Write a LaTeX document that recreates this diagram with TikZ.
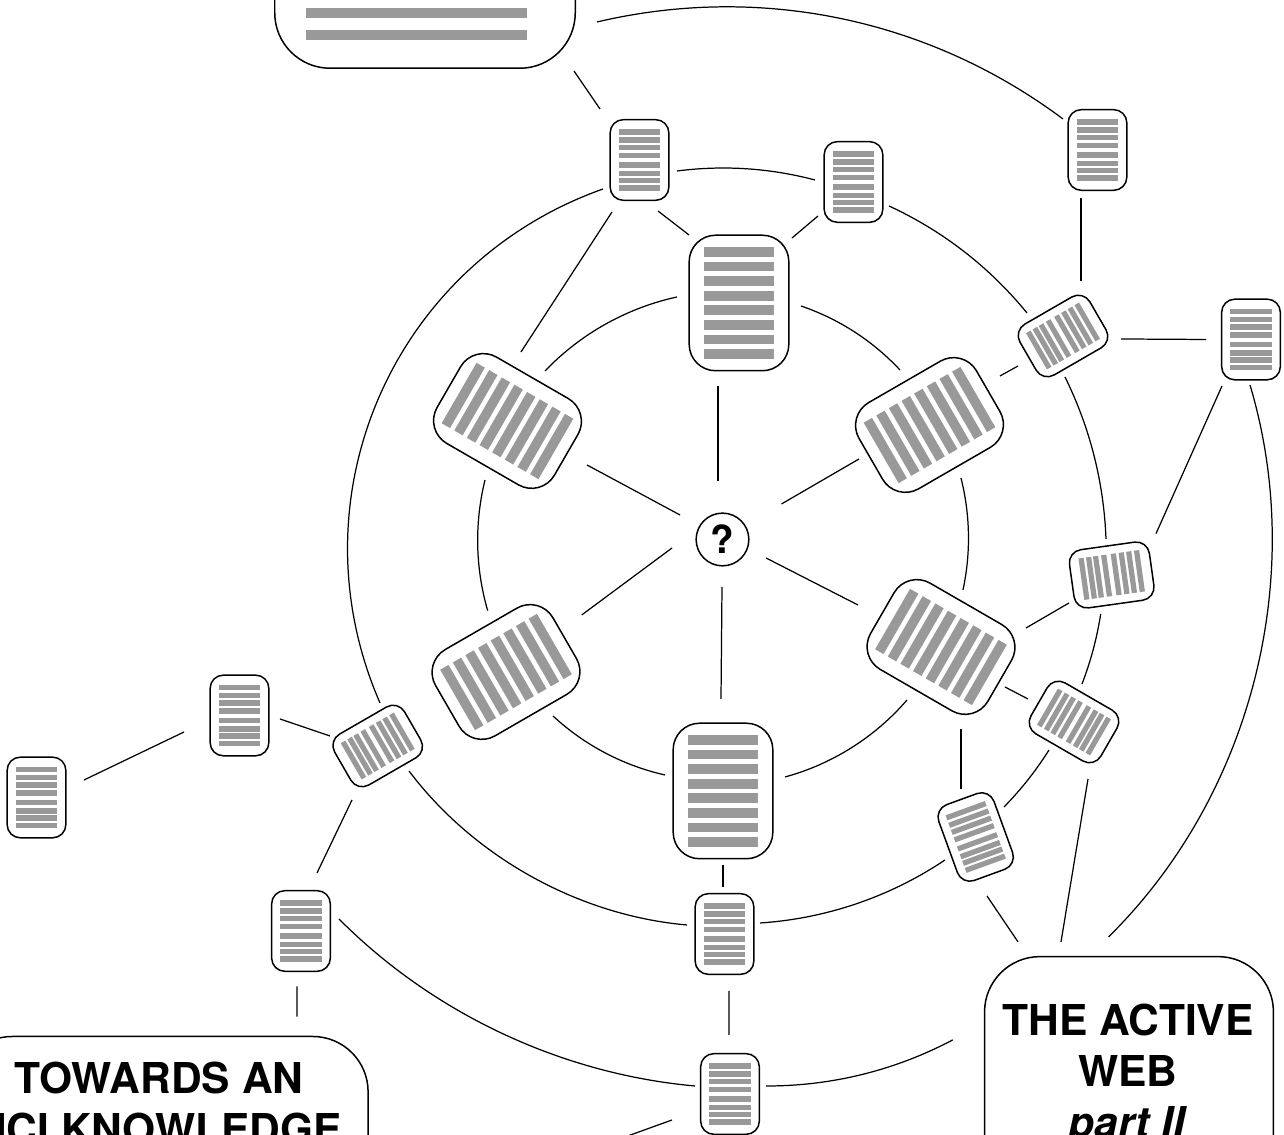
\documentclass[tikz,border=0pt]{standalone}
\usepackage{fontspec}
\setmainfont{TeX Gyre Heros}
\usetikzlibrary{calc}
\definecolor{bargray}{RGB}{153,153,153}
\newcommand{\smallbars}{\vbox{\foreach \gap in {0,1.53,1.3,1.53,2.5,1.7,1,1.3}{\vskip\gap pt\hrule width 23.8pt height 3pt}}}
\newcommand{\bigbars}{\vbox{\foreach \gap in {0,2.8,2.8,2.8,2.8,2.8,2.8,2.8}{\vskip\gap pt\hrule width 39.7pt height 5.5pt}}}
\newcommand{\topbars}{\vbox{\vskip 60pt\hrule width 125.3pt height 6pt\vskip 6.5pt\hrule width 125.3pt height 6pt}\kern 9.6pt}

\begin{document}
\begin{tikzpicture}[x=0.2mm,y=0.2mm,
  page/.style={draw,line width=0.85pt,text=bargray,rounded corners=7.5pt,inner sep=0pt,minimum width=33.4pt,minimum height=45.9pt},
  bigpage/.style={draw,line width=0.85pt,text=bargray,rounded corners=15pt,inner sep=0pt,minimum width=56.7pt,minimum height=77.1pt},
  titlebox/.style={draw,line width=0.85pt,rounded corners=31.5pt,inner sep=0pt},
  titletext/.style={align=center,inner sep=0pt,anchor=north,font=\bfseries\fontsize{24.2}{28.9}\selectfont},
  link/.style={line width=0.7pt,looseness=0.87}]

\useasboundingbox (0,0) rectangle (1284,1135);

\node [circle,draw,line width=0.85pt,inner sep=0pt,minimum size=30pt,font=\bfseries\fontsize{22}{22}\selectfont] (q) at (722.5,595.5) {?};

% the six large pages round the question mark
\node [bigpage] (b1) at (739,832) {\bigbars};
\node [bigpage,rotate=-60] (b2) at (929.5,710) {\bigbars};
\node [bigpage,rotate=60] (b3) at (941,488) {\bigbars};
\node [bigpage] (b4) at (723,344) {\bigbars};
\node [bigpage,rotate=-60] (b5) at (506,463) {\bigbars};
\node [bigpage,rotate=60] (b6) at (507.5,714) {\bigbars};

\node [page] (s1) at (639.5,975) {\smallbars};
\node [page] (s2) at (853.5,953) {\smallbars};
\node [page] (s3) at (1097.5,985) {\smallbars};
\node [page] (s4) at (1251,795.5) {\smallbars};
\node [page,rotate=-60] (s5) at (1063,799) {\smallbars};
\node [page,rotate=-82] (s6) at (1111.7,560) {\smallbars};
\node [page,rotate=60] (s7) at (1074,413) {\smallbars};
\node [page,rotate=20] (s8) at (975.7,298) {\smallbars};
\node [page] (s9) at (724.5,201) {\smallbars};
\node [page] (s10) at (730,41) {\smallbars};
\node [page] (s11) at (301,204) {\smallbars};
\node [page,rotate=-60] (s12) at (377.7,389) {\smallbars};
\node [page] (s13) at (239.5,419.5) {\smallbars};
\node [page] (s14) at (36.5,337.5) {\smallbars};

% boxes that run off the page
\node [titlebox,anchor=south,text=bargray,inner ysep=15.8pt,minimum width=171pt] (toc) at (425,1066) {\topbars};
\node [titlebox,minimum width=164.4pt,minimum height=170pt] (web) at (1129,29) {};
\node [titletext] (webtitle) at (1128,131) {THE ACTIVE\\WEB\\\textit{part II}};
\node [titlebox,minimum width=234pt,minimum height=136pt] (hci) at (162.5,-21) {};
\node [titletext] (hcititle) at (159,73) {TOWARDS AN\\HCI KNOWLEDGE};

\coordinate (off) at (600,-11);

% spokes
\draw [link] ($(b1)+(-21,-83)$) -- ($(q)+(-4.5,58.5)$);
\draw [link] ($(b6)+(79.5,-44)$) -- ($(q)+(-42.5,24.5)$);
\draw [link] ($(b2)+(-70.5,-34)$) -- ($(q)+(59,35.5)$);
\draw [link] ($(b5)+(75.7,57)$) -- ($(q)+(-50.5,-8.5)$);
\draw [link] ($(q)+(-0.5,-47.5)$) -- ($(b4)+(-2,92)$);
\draw [link] ($(q)+(43.5,-18.5)$) -- ($(b3)+(-83,42)$);

% inner ring
\draw [link] ($(b1)+(62,-3)$) to[bend left=14] ($(b2)+(-29.5,55)$);
\draw [link] ($(b2)+(31.5,-53)$) to[bend left=13] ($(b3)+(22,57)$);
\draw [link] ($(b3)+(-34,-53)$) to[bend left=17] ($(b4)+(62,14)$);
\draw [link] ($(b4)+(-58,16)$) to[bend left=15] ($(b5)+(47,-44)$);
\draw [link] ($(b5)+(-18.3,61.3)$) to[bend left=15] ($(b6)+(-22.5,-59)$);
\draw [link] ($(b6)+(37.5,50)$) to[bend left=17] ($(b1)+(-62,6)$);

% outer ring
\draw [link] ($(s1)+(37.5,-11)$) to[bend left=11] ($(s2)+(-38.5,2)$);
\draw [link] ($(s2)+(35.5,-24)$) to[bend left=13] ($(s5)+(-36,23)$);
\draw [link] ($(s5)+(2,-41)$) to[bend left=12] ($(s6)+(-5.7,36)$);
\draw [link] ($(s6)+(-11,-39)$) to[bend left=6] ($(s7)+(8,38)$);
\draw [link] ($(s7)+(-25,-28)$) to[bend left=6] ($(s8)+(28.3,30)$);
\draw [link] ($(s8)+(-30.7,-23)$) to[bend left=15] ($(s9)+(35.5,11)$);
\draw [link] ($(s9)+(-37.5,9)$) to[bend left=24] ($(s12)+(31.3,-25)$);
\draw [link] ($(s12)+(2.3,43)$) to[bend left=47,looseness=1.02] ($(s1)+(-36.5,-29)$);

% the rest
\draw [link] ($(toc.south east)+(-2,-2)$) -- ($(s1)+(-39.5,51)$);
\draw [link] ($(toc.south east)+(21,47)$) to[bend left=25,looseness=0.9] ($(s3)+(-34.5,31)$);
\draw [link] ($(s1)+(18.5,-51)$) -- ($(b1)+(-50,68)$);
\draw [link] ($(s1)+(-27.5,-52)$) -- ($(b6)+(13.5,69)$);
\draw [link] ($(s2)+(-35.5,-34)$) -- ($(b1)+(53,65)$);
\draw [link] ($(s3)+(-16.5,-48)$) -- ($(s5)+(18,55)$);
\draw [link] ($(b2)+(70.5,49)$) -- ($(s5)+(-45,-30)$);
\draw [link] ($(s5)+(58,-3)$) -- ($(s4)+(-45,0)$);
\draw [link] ($(s4)+(-29,-46.5)$) -- ($(s6)+(44.3,41.4)$);
\draw [link] ($(s4)+(-1,-45.5)$) to[bend left=31,looseness=0.9] ($(web.north)+(-20.4,19)$);
\draw [link] ($(s6)+(-42.7,-28)$) -- ($(b3)+(85,19)$);
\draw [link] ($(b3)+(64,-40)$) -- ($(s7)+(-46,23)$);
\draw [link] ($(b3)+(20,-82)$) -- ($(s8)+(-14.7,48)$);
\draw [link] ($(s7)+(14,-57)$) -- ($(web.north)+(-68,14)$);
\draw [link] ($(s8)+(11.3,-59)$) -- ($(web.north)+(-111,14)$);
\draw [link] ($(b4)+(0,-74)$) -- ($(s9)+(-1.5,47)$);
\draw [link] ($(s9)+(4.5,-57)$) -- ($(s10)+(-1,59)$);
\draw [link] ($(s10)+(36,8)$) to[bend right=14] ($(web.north west)+(-31,-84)$);
\draw [link] ($(s10)+(-35,8)$) to[bend left=20] ($(s11)+(38,12)$);
\draw [link] ($(s10)+(-58,-26)$) -- (off);
\draw [link] ($(s11)+(-4,-55.5)$) -- ($(hci.north)+(134.5,19)$);
\draw [link] ($(s11)+(16,58)$) -- ($(s12)+(-25.7,-54)$);
\draw [link] ($(s12)+(-47.7,10)$) -- ($(s13)+(40.5,-3.5)$);
\draw [link] ($(s13)+(-55.5,-16.5)$) -- ($(s14)+(47.5,17.5)$);

\end{tikzpicture}
\end{document}
